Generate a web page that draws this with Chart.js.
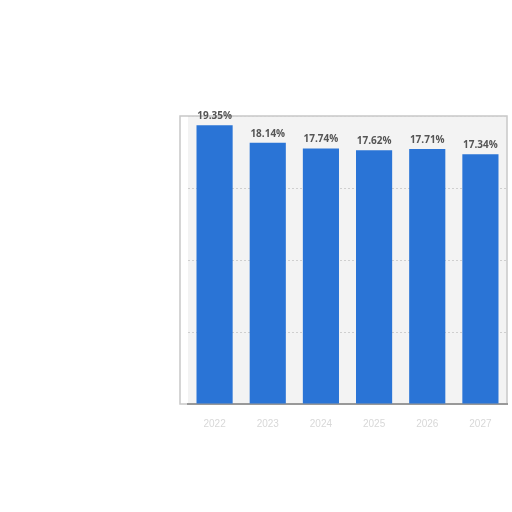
<!DOCTYPE html>
<html>
<head>
<meta charset="utf-8">
<script src="https://cdn.jsdelivr.net/npm/chart.js@4"></script>
<style>
  html, body { margin: 0; padding: 0; background: #fff; }
  #wrap { width: 512px; height: 512px; }
</style>
</head>
<body>
<div id="wrap"><canvas id="shareChart" width="512" height="512"></canvas></div>
<script>
// Values
var years = ['2022', '2023', '2024', '2025', '2026', '2027'];
var shares = [19.35, 18.14, 17.74, 17.62, 17.71, 17.34];
var yTicks = [0, 5, 10, 15, 20];

// Light panel behind the bars plus a thin frame
var panelPlugin = {
    id: 'panel',
    beforeDraw: function (chart) {
        var a = chart.chartArea;
        var c = chart.ctx;
        c.save();
        c.fillStyle = '#f3f3f3';
        c.fillRect(a.left, a.top, a.right - a.left, a.bottom - a.top);
        c.strokeStyle = '#c8c8c8';
        c.lineWidth = 1.5;
        c.strokeRect(a.left - 8, a.top, a.right - a.left + 8, a.bottom - a.top);
        c.restore();
    }
};

// Percent labels above each bar
var valueLabels = {
    id: 'valueLabels',
    afterDatasetsDraw: function (chart) {
        var c = chart.ctx;
        var meta = chart.getDatasetMeta(0);
        c.save();
        c.font = 'bold 10px "Open Sans", sans-serif';
        c.fillStyle = '#555';
        c.textAlign = 'center';
        c.textBaseline = 'bottom';
        meta.data.forEach(function (bar, i) {
            c.fillText(shares[i].toFixed(2) + '%', bar.x, bar.y - 4);
        });
        c.restore();
    }
};

var ctx = document.getElementById('shareChart').getContext('2d');
var chart = new Chart(ctx, {
    type: 'bar',
    data: {
        labels: years,
        datasets: [{
            data: shares,
            backgroundColor: '#2a74d6',
            borderWidth: 0,
            categoryPercentage: 1,
            barPercentage: 0.68
        }]
    },
    options: {
        responsive: false,
        animation: false,
        layout: { padding: { left: 188, right: 5, top: 116, bottom: 76 } },
        plugins: {
            legend: { display: false },
            tooltip: { enabled: false }
        },
        scales: {
            x: {
                grid: { display: false },
                border: { display: true, color: '#999', width: 2 },
                ticks: { color: '#d8d8d8', font: { size: 10 }, padding: 6 }
            },
            y: {
                min: 0,
                max: 20,
                afterBuildTicks: function (axis) {
                    axis.ticks = yTicks.map(function (v) { return { value: v }; });
                },
                ticks: { display: false },
                border: { display: false, dash: [2, 2] },
                grid: { color: '#cfcfcf', drawTicks: false }
            }
        }
    },
    plugins: [panelPlugin, valueLabels]
});
</script>
</body>
</html>
